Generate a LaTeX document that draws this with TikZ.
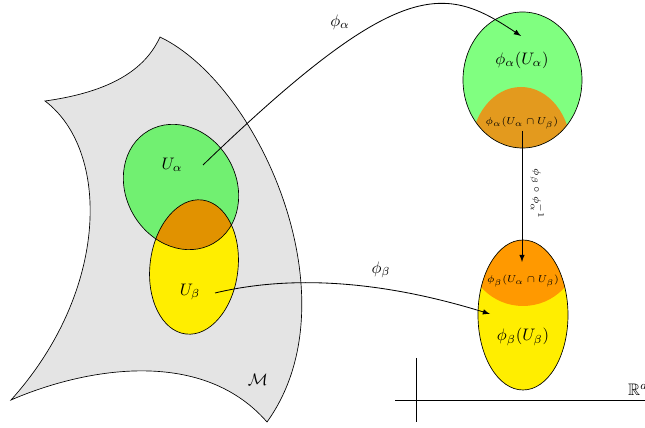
\documentclass[tikz,border=0pt]{standalone}
\usepackage{amssymb}
\usetikzlibrary{positioning}
\definecolor{mfdgray}{RGB}{228,228,228}
\definecolor{chartgreen}{RGB}{113,240,113}
\definecolor{imggreen}{RGB}{128,255,128}
\definecolor{overlaporange}{RGB}{225,146,0}
\definecolor{imgorangea}{RGB}{227,154,30}
\definecolor{imgorangeb}{RGB}{255,153,0}
\definecolor{chartyellow}{RGB}{255,238,0}
\begin{document}
\begin{tikzpicture}[x=0.6pt,y=-0.6pt,
  map/.style={-latex,line width=0.5pt},
  lab/.style={inner sep=1pt},
  smalllab/.style={inner sep=1pt,font=\fontsize{6}{7}\selectfont}]
\useasboundingbox (0,0) rectangle (645,428);
% manifold M
\draw[fill=mfdgray] (45,101) .. controls (110,92) and (145,70) .. (160,37)
  .. controls (260,85) and (355,300) .. (267,422)
  .. controls (200,345) and (80,370) .. (11,400)
  .. controls (110,290) and (110,150) .. (45,101) -- cycle;
% charts U_alpha, U_beta
\fill[chartyellow, rotate around={-7:(194,267)}] (194,267) ellipse [x radius=44, y radius=67.5];
\fill[chartgreen, rotate around={30:(181,187)}] (181,187) ellipse [x radius=55, y radius=65];
\begin{scope}
\clip[rotate around={-7:(194,267)}] (194,267) ellipse [x radius=44, y radius=67.5];
\fill[overlaporange, rotate around={30:(181,187)}] (181,187) ellipse [x radius=55, y radius=65];
\end{scope}
\draw[rotate around={-7:(194,267)}] (194,267) ellipse [x radius=44, y radius=67.5];
\draw[rotate around={30:(181,187)}] (181,187) ellipse [x radius=55, y radius=65];
\node[lab] (Ua) at (172,165) {$U_\alpha$};
\node[lab] (Ub) at (190,292) {$U_\beta$};
\node[lab] (M) at (258,380) {$\mathcal{M}$};
% image of U_alpha
\fill[imggreen] (522.5,80) ellipse [x radius=59.5, y radius=68];
\begin{scope}
\clip (522.5,80) ellipse [x radius=59.5, y radius=68];
\fill[imgorangea] (521,150) ellipse [x radius=50, y radius=63];
\end{scope}
\draw (522.5,80) ellipse [x radius=59.5, y radius=68];
\node[lab] (phiUa) at (522,60) {$\phi_\alpha(U_\alpha)$};
\node[smalllab] (phiUab) at (522,123) {$\phi_\alpha(U_\alpha\cap U_\beta)$};
% image of U_beta
\fill[chartyellow] (523,315) ellipse [x radius=45, y radius=75];
\begin{scope}
\clip (523,315) ellipse [x radius=45, y radius=75];
\fill[imgorangeb] (523,250) circle [radius=56];
\end{scope}
\draw (523,315) ellipse [x radius=45, y radius=75];
\node[lab] (phiUb) at (523,337) {$\phi_\beta(U_\beta)$};
\node[smalllab] (phiUba) at (523,281) {$\phi_\beta(U_\alpha\cap U_\beta)$};
% axes of R^d
\coordinate (xl) at (395,400);
\coordinate (xr) at (645,400);
\coordinate (yt) at (416,358);
\coordinate (yb) at (416,422);
\draw (xl) -- (xr);
\draw (yt) -- (yb);
\node[lab, anchor=west] (Rd) at (626,388) {$\mathbb{R}^d$};
% maps
\coordinate (a0) at (203,165);
\coordinate (a1) at (521,36);
\draw[map] (a0) .. controls (400,-25) and (445,-15) .. (a1);
\node[lab] (phia) at (340,22) {$\phi_\alpha$};
\coordinate (b0) at (215,293);
\coordinate (b1) at (490,314);
\draw[map] (b0) .. controls (290,275) and (380,280) .. (b1);
\node[lab] (phib) at (381,270) {$\phi_\beta$};
\coordinate (c0) at (522,131);
\coordinate (c1) at (522,262);
\draw[map] (c0) -- (c1);
\node[smalllab, rotate=-90] (trans) at (537,194) {$\phi_\beta\circ\phi_\alpha^{-1}$};
\end{tikzpicture}
\end{document}
